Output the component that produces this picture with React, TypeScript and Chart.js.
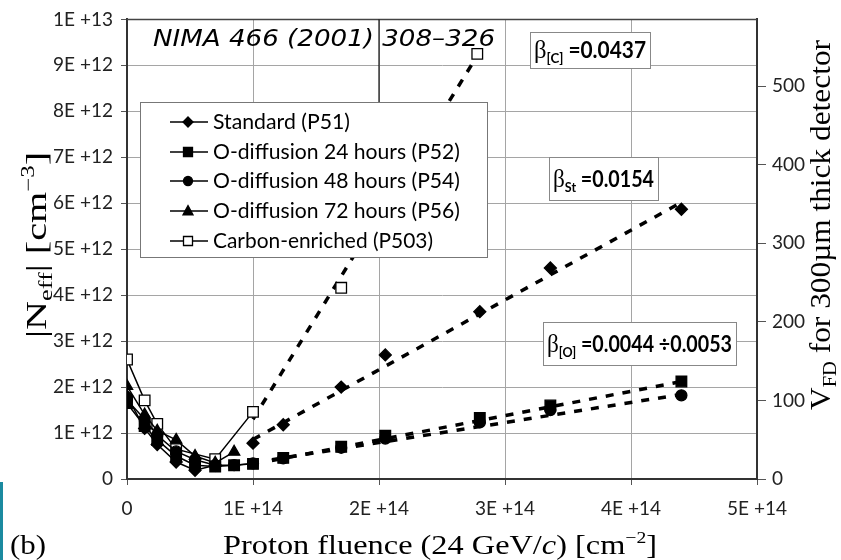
import React, { useEffect, useRef } from 'react';
import { Chart, registerables } from 'chart.js';
Chart.register(...registerables);

// ---------- data ----------
const fluenceStd = [0, 1.4e13, 2.4e13, 3.9e13, 5.4e13, 7.0e13, 1.0e14, 1.24e14, 1.7e14, 2.05e14, 2.8e14, 3.36e14, 4.4e14];
const neffStd = [1.8e12, 1.1e12, 0.75e12, 0.37e12, 0.19e12, 0.3e12, 0.78e12, 1.18e12, 2.0e12, 2.7e12, 3.64e12, 4.59e12, 5.87e12];

const fluenceP52 = [0, 1.4e13, 2.4e13, 3.9e13, 5.4e13, 7.0e13, 8.5e13, 1.0e14, 1.24e14, 1.7e14, 2.05e14, 2.8e14, 3.36e14, 4.4e14];
const neffP52 = [1.65e12, 1.15e12, 0.85e12, 0.5e12, 0.3e12, 0.27e12, 0.3e12, 0.33e12, 0.46e12, 0.7e12, 0.94e12, 1.33e12, 1.6e12, 2.12e12];

const fluenceP54 = [0, 1.4e13, 2.4e13, 3.9e13, 5.4e13, 7.0e13, 8.5e13, 1.0e14, 1.24e14, 1.7e14, 2.05e14, 2.8e14, 3.36e14, 4.4e14];
const neffP54 = [1.72e12, 1.3e12, 0.95e12, 0.6e12, 0.42e12, 0.3e12, 0.3e12, 0.34e12, 0.45e12, 0.68e12, 0.88e12, 1.23e12, 1.5e12, 1.82e12];

const fluenceP56 = [0, 1.4e13, 2.4e13, 3.9e13, 5.4e13, 7.0e13, 8.5e13];
const neffP56 = [2.02e12, 1.4e12, 1.05e12, 0.85e12, 0.5e12, 0.35e12, 0.59e12];

const fluenceC = [0, 1.4e13, 2.4e13, 3.9e13, 7.0e13, 1.0e14, 1.7e14, 2.78e14];
const neffC = [2.6e12, 1.71e12, 1.2e12, 0.65e12, 0.43e12, 1.46e12, 4.16e12, 9.25e12];

// linear fits (dashed)
const fitCX = [1.0e14, 2.8e14];
const fitCY = [1.3e12, 9.3e12];
const fitStX = [1.0e14, 4.4e14];
const fitStY = [0.86e12, 6.02e12];
const fitOUpX = [1.15e14, 4.4e14];
const fitOUpY = [0.4e12, 2.12e12];
const fitOLoX = [1.15e14, 4.4e14];
const fitOLoY = [0.42e12, 1.84e12];

const seriesNames = [
  'Standard (P51)',
  'O-diffusion 24 hours (P52)',
  'O-diffusion 48 hours (P54)',
  'O-diffusion 72 hours (P56)',
  'Carbon-enriched (P503)',
];

const xTickLabels = ['0', '1E +14', '2E +14', '3E +14', '4E +14', '5E +14'];
const yTickLabels = ['0', '1E +12', '2E +12', '3E +12', '4E +12', '5E +12', '6E +12', '7E +12', '8E +12', '9E +12', '1E +13'];
const vTickLabels = ['0', '100', '200', '300', '400', '500'];

// ---------- helpers ----------
type Run = { t: string; font: string; dy?: number };

function runsWidth(ctx: CanvasRenderingContext2D, runs: Run[]) {
  let w = 0;
  for (const r of runs) {
    ctx.font = r.font;
    w += ctx.measureText(r.t).width;
  }
  return w;
}

function drawRuns(ctx: CanvasRenderingContext2D, runs: Run[], x: number, y: number, targetW?: number) {
  const w = runsWidth(ctx, runs);
  const sx = targetW ? targetW / w : 1;
  ctx.save();
  ctx.translate(x, y);
  ctx.scale(sx, 1);
  ctx.textAlign = 'left';
  ctx.textBaseline = 'alphabetic';
  let cx = 0;
  for (const r of runs) {
    ctx.font = r.font;
    ctx.fillText(r.t, cx, r.dy || 0);
    cx += ctx.measureText(r.t).width;
  }
  ctx.restore();
}

function marker(ctx: CanvasRenderingContext2D, style: string, x: number, y: number, r: number, open: boolean) {
  ctx.save();
  ctx.beginPath();
  if (style === 'rectRot') {
    ctx.moveTo(x, y - r);
    ctx.lineTo(x + r, y);
    ctx.lineTo(x, y + r);
    ctx.lineTo(x - r, y);
    ctx.closePath();
  } else if (style === 'rect') {
    ctx.rect(x - r, y - r, 2 * r, 2 * r);
  } else if (style === 'circle') {
    ctx.arc(x, y, r, 0, Math.PI * 2);
  } else if (style === 'triangle') {
    ctx.moveTo(x, y - r * 1.1);
    ctx.lineTo(x + r, y + r * 0.75);
    ctx.lineTo(x - r, y + r * 0.75);
    ctx.closePath();
  }
  ctx.fillStyle = open ? '#fff' : '#000';
  ctx.fill();
  ctx.lineWidth = 1.3;
  ctx.strokeStyle = '#000';
  ctx.stroke();
  ctx.restore();
}

const SANS = 'Lato, "Noto Sans", sans-serif';
const SERIF = '"Liberation Serif", "DejaVu Serif", serif';

const legendStyles = [
  { s: 'rectRot', r: 5, open: false },
  { s: 'rect', r: 4.5, open: false },
  { s: 'circle', r: 4.5, open: false },
  { s: 'triangle', r: 5, open: false },
  { s: 'rect', r: 4.5, open: true },
];

const decorPlugin = {
  id: 'decor',
  beforeDatasetsDraw(chart: any) {
    const ctx: CanvasRenderingContext2D = chart.ctx;
    const a = chart.chartArea;
    ctx.save();
    // top border
    ctx.strokeStyle = '#444';
    ctx.lineWidth = 1.5;
    ctx.beginPath();
    ctx.moveTo(a.left, a.top);
    ctx.lineTo(a.right, a.top);
    ctx.stroke();
    // darker 2E14 line segment at top
    const x2 = chart.scales.x.getPixelForValue(2e14);
    ctx.strokeStyle = '#111';
    ctx.lineWidth = 1.2;
    ctx.beginPath();
    ctx.moveTo(x2, a.top);
    ctx.lineTo(x2, 102);
    ctx.stroke();
    ctx.restore();
  },
  afterDraw(chart: any) {
    const ctx: CanvasRenderingContext2D = chart.ctx;
    ctx.save();
    ctx.fillStyle = '#000';

    // NIMA reference text
    drawRuns(ctx, [{ t: 'NIMA 466 (2001) 308\u2013326', font: 'italic 23px "DejaVu Sans", sans-serif' }], 153, 46, 342);

    // legend box
    ctx.fillStyle = '#fff';
    ctx.fillRect(140, 102, 347, 155);
    ctx.strokeStyle = '#777';
    ctx.lineWidth = 1;
    ctx.strokeRect(140.5, 102.5, 347, 155);
    const rows = [122, 152, 181, 211, 241];
    const widths = [137, 247, 247, 247, 220];
    seriesNames.forEach((n, i) => {
      const y = rows[i];
      ctx.strokeStyle = '#000';
      ctx.lineWidth = 1.5;
      ctx.beginPath();
      ctx.moveTo(170, y);
      ctx.lineTo(208, y);
      ctx.stroke();
      const st = legendStyles[i];
      marker(ctx, st.s, 188, y, st.r, st.open);
      ctx.fillStyle = '#000';
      drawRuns(ctx, [{ t: n, font: '21px ' + SANS }], 213, y + 7, widths[i]);
    });

    // beta boxes
    const boxes = [
      { x: 530, y: 32, w: 120, h: 36, sub: '[C]', val: '=0.0437' },
      { x: 549, y: 157, w: 109, h: 43, sub: 'St', val: '=0.0154' },
      { x: 543, y: 322, w: 193, h: 43, sub: '[O]', val: '=0.0044 \u00f70.0053' },
    ];
    for (const b of boxes) {
      ctx.fillStyle = '#fff';
      ctx.fillRect(b.x, b.y, b.w, b.h);
      ctx.strokeStyle = '#888';
      ctx.lineWidth = 1;
      ctx.strokeRect(b.x + 0.5, b.y + 0.5, b.w, b.h);
      ctx.fillStyle = '#000';
      drawRuns(
        ctx,
        [
          { t: '\u03b2', font: '26px ' + SERIF },
          { t: b.sub, font: 'bold 14px ' + SANS, dy: 5 },
          { t: ' ' + b.val, font: 'bold 22px ' + SANS },
        ],
        b.x + 4,
        b.y + b.h / 2 + 8,
        b.w - 8
      );
    }

    // axis titles
    ctx.fillStyle = '#000';
    drawRuns(
      ctx,
      [
        { t: 'Proton fluence (24 GeV/', font: '28px ' + SERIF },
        { t: 'c', font: 'italic 28px ' + SERIF },
        { t: ') [cm', font: '28px ' + SERIF },
        { t: '\u22122', font: '17px ' + SERIF, dy: -11 },
        { t: ']', font: '28px ' + SERIF },
      ],
      223,
      554,
      434
    );
    drawRuns(ctx, [{ t: '(b)', font: '28px ' + SERIF }], 10, 554, 36);

    // left title (rotated)
    const leftRuns: Run[] = [
      { t: '|N', font: '29px ' + SERIF },
      { t: 'eff', font: '19px ' + SERIF, dy: 6 },
      { t: '| [cm', font: '29px ' + SERIF },
      { t: '\u22123', font: '18px ' + SERIF, dy: -12 },
      { t: ']', font: '29px ' + SERIF },
    ];
    ctx.save();
    ctx.translate(46, 245);
    ctx.rotate(-Math.PI / 2);
    drawRuns(ctx, leftRuns, -93, 0, 186);
    ctx.restore();

    // right title
    const rightRuns: Run[] = [
      { t: 'V', font: '29px ' + SERIF },
      { t: 'FD', font: '19px ' + SERIF, dy: 6 },
      { t: ' for 300\u00b5m thick detector', font: '29px ' + SERIF },
    ];
    ctx.save();
    ctx.translate(830, 225);
    ctx.rotate(-Math.PI / 2);
    drawRuns(ctx, rightRuns, -185, 0, 370);
    ctx.restore();

    // teal edge artifact
    ctx.fillStyle = '#1b8aa0';
    ctx.fillRect(0, 482, 3, 78);
    ctx.restore();
  },
};

function pts(xs: number[], ys: number[]) {
  return xs.map((x, i) => ({ x, y: ys[i] }));
}

function seriesDs(label: string, xs: number[], ys: number[], style: string, r: number, open: boolean, lim: number) {
  return {
    label,
    data: pts(xs, ys),
    borderColor: '#000',
    backgroundColor: open ? '#fff' : '#000',
    pointBackgroundColor: open ? '#fff' : '#000',
    pointBorderColor: '#000',
    pointBorderWidth: 1.3,
    pointStyle: style,
    pointRadius: r,
    borderWidth: 1.5,
    showLine: true,
    segment: {
      borderColor: (c: any) => (c.p1.parsed.x > lim + 1 ? 'rgba(0,0,0,0)' : '#000'),
    },
    order: 1,
  };
}

function fitDs(label: string, xs: number[], ys: number[]) {
  return {
    label,
    data: pts(xs, ys),
    borderColor: '#000',
    borderWidth: 3.5,
    borderDash: [8, 9],
    pointRadius: 0,
    showLine: true,
    order: 2,
  };
}

export default function App() {
  const ref = useRef<HTMLCanvasElement | null>(null);
  useEffect(() => {
    if (!ref.current) return;
    const chart = new Chart(ref.current, {
      type: 'scatter',
      data: {
        datasets: [
          fitDs('fitC', fitCX, fitCY),
          fitDs('fitSt', fitStX, fitStY),
          fitDs('fitOUp', fitOUpX, fitOUpY),
          fitDs('fitOLo', fitOLoX, fitOLoY),
          seriesDs(seriesNames[0], fluenceStd, neffStd, 'rectRot', 6, false, 7.0e13),
          seriesDs(seriesNames[1], fluenceP52, neffP52, 'rect', 7.5, false, 1.0e14),
          seriesDs(seriesNames[2], fluenceP54, neffP54, 'circle', 5.5, false, 1.0e14),
          seriesDs(seriesNames[3], fluenceP56, neffP56, 'triangle', 6.5, false, 8.5e13),
          seriesDs(seriesNames[4], fluenceC, neffC, 'rect', 7.5, true, 1.0e14),
        ] as any,
      },
      options: {
        responsive: false,
        animation: false,
        devicePixelRatio: 1,
        layout: { padding: { top: 17, left: 0, right: 0, bottom: 0 } },
        plugins: { legend: { display: false }, tooltip: { enabled: false }, title: { display: false } },
        scales: {
          x: {
            type: 'linear',
            min: 0,
            max: 5e14,
            afterBuildTicks: (s: any) => {
              s.ticks = xTickLabels.map((_, i) => ({ value: i * 1e14 }));
            },
            afterFit: (s: any) => {
              s.height = 81;
            },
            ticks: {
              callback: (_v: any, i: number) => xTickLabels[i],
              font: { family: 'Lato', size: 19 },
              color: '#222',
              padding: 12,
              maxRotation: 0,
            },
            grid: { color: '#a5a5a5', lineWidth: 1, tickLength: 6, tickColor: '#555' },
            border: { color: '#333', width: 2 },
          },
          y: {
            type: 'linear',
            position: 'left',
            min: 0,
            max: 1e13,
            afterBuildTicks: (s: any) => {
              s.ticks = yTickLabels.map((_, i) => ({ value: i * 1e12 }));
            },
            afterFit: (s: any) => {
              s.width = 127;
            },
            ticks: {
              callback: (_v: any, i: number) => yTickLabels[i],
              font: { family: 'Lato', size: 19 },
              color: '#222',
              padding: 8,
            },
            grid: { color: '#a5a5a5', lineWidth: 1, tickLength: 6, tickColor: '#555' },
            border: { color: '#333', width: 2 },
          },
          y2: {
            type: 'linear',
            position: 'right',
            min: 0,
            max: 585,
            afterBuildTicks: (s: any) => {
              s.ticks = vTickLabels.map((_, i) => ({ value: i * 100 }));
            },
            afterFit: (s: any) => {
              s.width = 84;
            },
            ticks: {
              callback: (_v: any, i: number) => vTickLabels[i],
              font: { family: 'Lato', size: 19 },
              color: '#222',
              padding: 6,
            },
            grid: { drawOnChartArea: false, tickLength: 9, tickColor: '#555' },
            border: { color: '#333', width: 2 },
          },
        },
      },
      plugins: [decorPlugin],
    } as any);
    return () => chart.destroy();
  }, []);
  return (
    <div style={{ position: 'fixed', left: 0, top: 0, width: 841, height: 560, background: '#fff' }}>
      <canvas ref={ref} width={841} height={560} style={{ display: 'block', width: 841, height: 560 }} />
    </div>
  );
}
